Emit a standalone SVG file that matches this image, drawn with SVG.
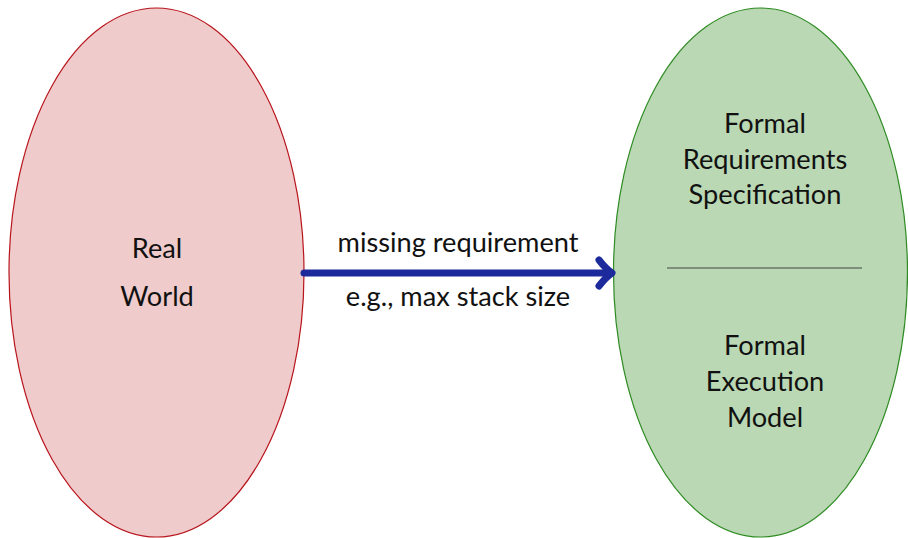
<svg xmlns="http://www.w3.org/2000/svg" width="908" height="538" viewBox="0 0 908 538">
<style>
text{font-family:Lato,"Open Sans","DejaVu Sans",sans-serif;font-size:27.2px;fill:#111;text-anchor:middle}
.arrow{stroke:#1c2a9c;stroke-width:7;fill:none;stroke-linecap:round;stroke-linejoin:round}
</style>
<rect width="908" height="538" fill="#fff"/>
<g id="real-world">
<ellipse cx="156.5" cy="272.5" rx="147.5" ry="264.5" fill="#f0cbcb" stroke="#b8141c" stroke-width="1.2"/>
<text x="157" y="258">Real</text>
<text x="157" y="306">World</text>
</g>
<g id="formal">
<ellipse cx="760.5" cy="272.5" rx="147" ry="264.5" fill="#bad8b4" stroke="#2e8b22" stroke-width="1.2"/>
<text x="765" y="133">Formal</text>
<text x="765" y="169">Requirements</text>
<text x="765" y="204">Specification</text>
<line x1="667" y1="268" x2="862" y2="268" stroke="#444" stroke-width="1.2"/>
<text x="765" y="355">Formal</text>
<text x="765" y="391">Execution</text>
<text x="765" y="427">Model</text>
</g>
<g id="connectors">
<path class="arrow" d="M304,273 H609"/>
<path class="arrow" d="M599,260 Q606,269 612,273 Q606,277 599,286"/>
<text x="458" y="252">missing requirement</text>
<text x="458" y="306">e.g., max stack size</text>
</g>
</svg>
